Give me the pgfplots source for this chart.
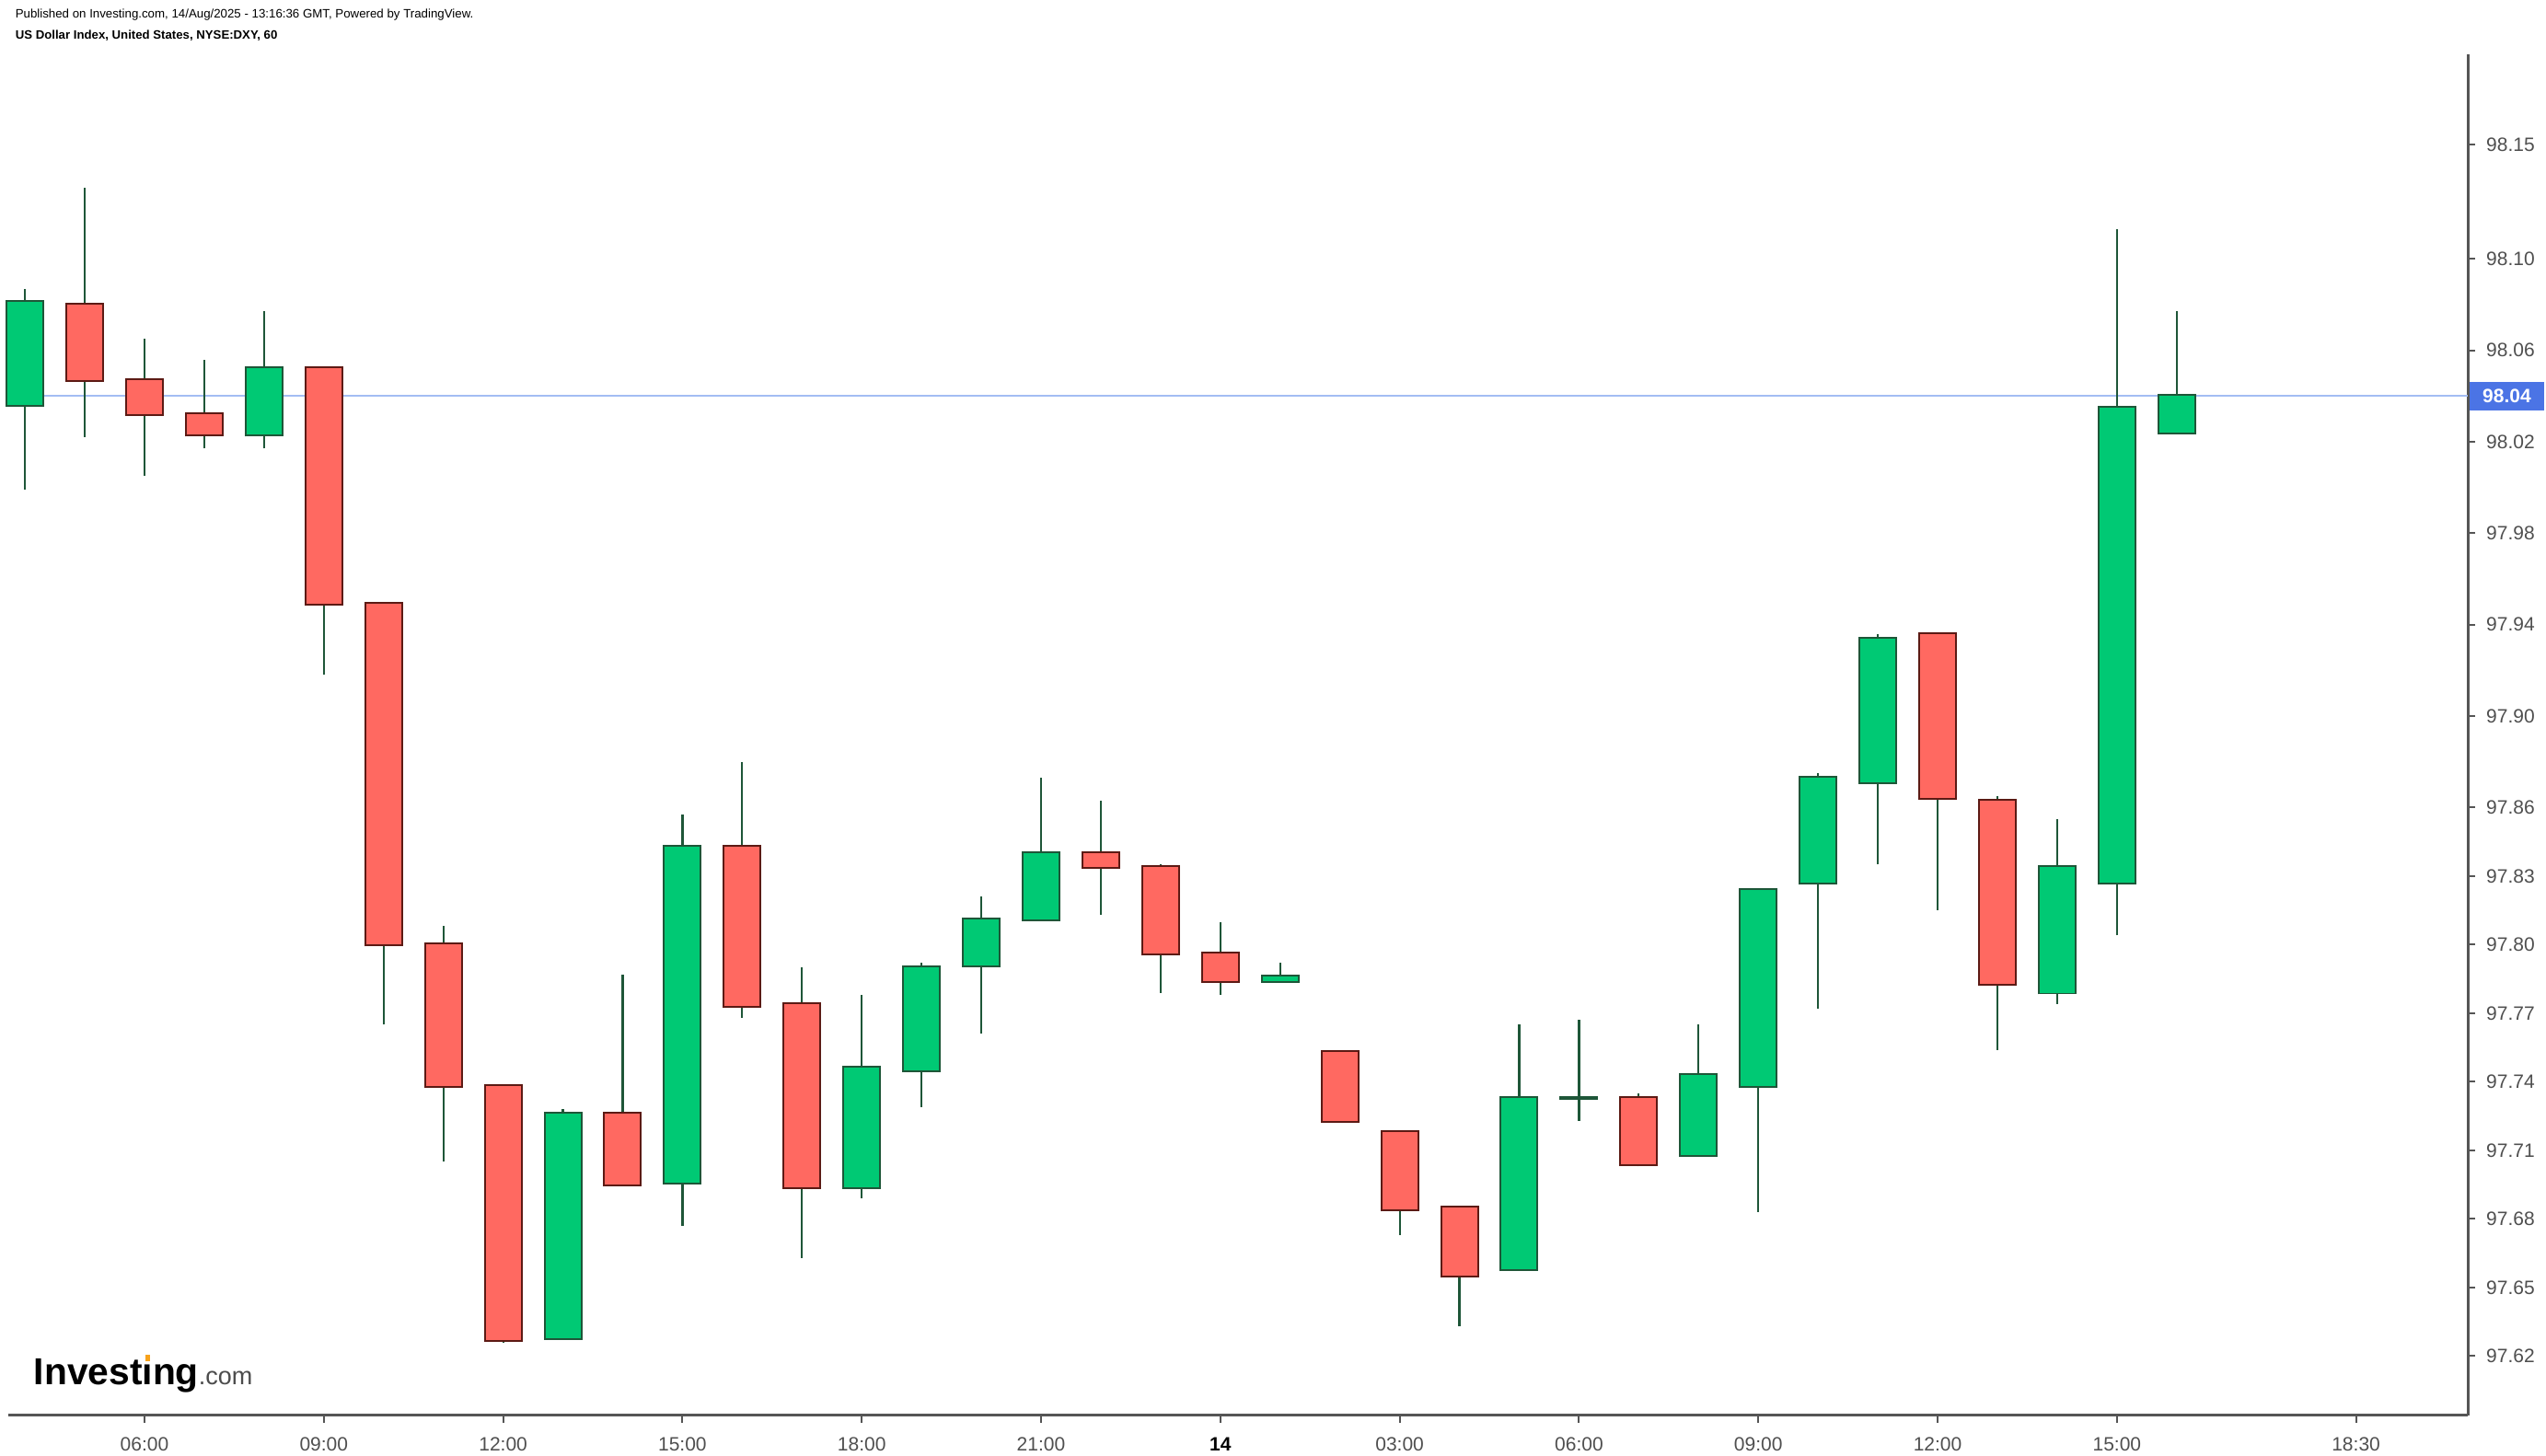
\documentclass[border=0pt]{standalone}
\usepackage{pgfplots}
\pgfplotsset{compat=1.18}
\usepackage{pgfplotstable}
\usepackage{fontspec}
\setmainfont{Liberation Sans}
\definecolor{gfill}{HTML}{00C974}
\definecolor{gborder}{HTML}{1E5638}
\definecolor{rfill}{HTML}{FF6961}
\definecolor{rborder}{HTML}{5C1A14}
\definecolor{wick}{HTML}{1E5638}
\definecolor{axiscol}{HTML}{555555}
\definecolor{labelcol}{HTML}{4F4F4F}
\definecolor{pline}{HTML}{A3BDF3}
\definecolor{pbox}{HTML}{4B74E5}
\definecolor{logoorange}{HTML}{F7A21B}

% i = hour index (0 = 04:00 on 13 Aug), o h l c
\pgfplotstableread{
i o h l c
0 98.036 98.087 97.999 98.081
4 98.023 98.077 98.017 98.052
9 97.628 97.728 97.628 97.726
11 97.696 97.857 97.677 97.843
14 97.694 97.778 97.689 97.746
15 97.745 97.792 97.729 97.790
16 97.791 97.821 97.761 97.811
17 97.811 97.873 97.811 97.840
21 97.784 97.792 97.784 97.786
25 97.658 97.765 97.658 97.733
26 97.733 97.767 97.723 97.733
28 97.708 97.765 97.708 97.743
29 97.738 97.824 97.683 97.824
30 97.827 97.875 97.772 97.873
31 97.871 97.936 97.835 97.934
34 97.779 97.855 97.774 97.834
35 97.827 98.113 97.804 98.035
36 98.024 98.077 98.024 98.040
}\upT
\pgfplotstableread{
i o h l c
1 98.080 98.131 98.022 98.047
2 98.047 98.065 98.005 98.032
3 98.032 98.056 98.017 98.023
5 98.052 98.052 97.918 97.949
6 97.949 97.950 97.765 97.800
7 97.800 97.808 97.705 97.738
8 97.738 97.738 97.626 97.627
10 97.726 97.787 97.695 97.695
12 97.843 97.880 97.768 97.773
13 97.774 97.790 97.663 97.694
18 97.840 97.863 97.813 97.834
19 97.834 97.835 97.779 97.796
20 97.796 97.810 97.778 97.784
22 97.753 97.753 97.723 97.723
23 97.718 97.718 97.673 97.684
24 97.685 97.685 97.633 97.655
27 97.733 97.735 97.703 97.704
32 97.936 97.936 97.815 97.864
33 97.863 97.865 97.754 97.783
}\dnT

\newcommand\tickfont{\fontsize{5.25}{6}\selectfont}

\begin{document}
\begin{tikzpicture}
\path[use as bounding box] (-2.25pt,-11pt) rectangle (689.25pt,384.5pt);
\begin{axis}[
  at={(0,0)}, anchor=south west,
  scale only axis, width=668pt, height=369.75pt,
  xmin=-0.279, xmax=40.87, ymin=97.594, ymax=98.1895,
  axis x line*=bottom, axis y line*=right,
  axis line style={draw=axiscol, line width=0.75pt},
  xtick={2,5,8,11,14,17,20,23,26,29,32,35,39},
  xticklabels={06:00,09:00,12:00,15:00,18:00,21:00,{\textcolor{black}{\bfseries 14}},03:00,06:00,09:00,12:00,15:00,18:30},
  ytick={97.62,97.65,97.68,97.71,97.74,97.77,97.80,97.83,97.86,97.90,97.94,97.98,98.02,98.06,98.10,98.15},
  yticklabels={97.62,97.65,97.68,97.71,97.74,97.77,97.80,97.83,97.86,97.90,97.94,97.98,98.02,98.06,98.10,98.15},
  tick align=outside, major tick length=2pt,
  tick style={draw=axiscol, line width=0.5pt},
  ticklabel style={font=\tickfont, text=labelcol},
  yticklabel style={anchor=west, xshift=-0.5pt},
  xticklabel style={yshift=-0.5pt},
  clip=false,
]
% current price line
\addplot[forget plot, draw=pline, line width=0.4pt] coordinates {(-0.279,98.04) (40.87,98.04)};
% wicks
\addplot[forget plot, draw=none, mark=none, error bars/.cd, y dir=plus, y explicit, error mark=none,
  error bar style={draw=wick, line width=0.55pt, solid}]
  table[x=i, y=l, y error expr=\thisrow{h}-\thisrow{l}] \upT;
\addplot[forget plot, draw=none, mark=none, error bars/.cd, y dir=plus, y explicit, error mark=none,
  error bar style={draw=wick, line width=0.55pt, solid}]
  table[x=i, y=l, y error expr=\thisrow{h}-\thisrow{l}] \dnT;
% bodies: border
\addplot[forget plot, draw=none, mark=none, error bars/.cd, y dir=plus, y explicit, error mark=none,
  error bar style={draw=gborder, line width=10.5pt, solid}]
  table[x=i, y expr={min(\thisrow{o},\thisrow{c})-0.0008}, y error expr={abs(\thisrow{c}-\thisrow{o})+0.0016}] \upT;
\addplot[forget plot, draw=none, mark=none, error bars/.cd, y dir=plus, y explicit, error mark=none,
  error bar style={draw=rborder, line width=10.5pt, solid}]
  table[x=i, y expr={min(\thisrow{o},\thisrow{c})-0.0008}, y error expr={abs(\thisrow{c}-\thisrow{o})+0.0016}] \dnT;
% bodies: fill
\addplot[forget plot, draw=none, mark=none, error bars/.cd, y dir=plus, y explicit, error mark=none,
  error bar style={draw=gfill, line width=9.5pt, solid}]
  table[x=i, y expr={min(\thisrow{o},\thisrow{c})}, y error expr={abs(\thisrow{c}-\thisrow{o})}] \upT;
\addplot[forget plot, draw=none, mark=none, error bars/.cd, y dir=plus, y explicit, error mark=none,
  error bar style={draw=rfill, line width=9.5pt, solid}]
  table[x=i, y expr={min(\thisrow{o},\thisrow{c})}, y error expr={abs(\thisrow{c}-\thisrow{o})}] \dnT;
\coordinate (pl) at (axis cs:40.87,98.04);
\end{axis}
\node[anchor=west, fill=pbox, text=white, inner sep=0pt, minimum width=20.25pt, minimum height=7.75pt,
  font=\tickfont\bfseries] at ([xshift=0.3pt]pl) {98.04};
% header
\node[anchor=west, inner sep=0pt, font=\fontsize{3.32}{4}\selectfont] at (1.75pt,380.5pt)
  {Published on Investing.com, 14/Aug/2025 - 13:16:36 GMT, Powered by TradingView.};
\node[anchor=west, inner sep=0pt, font=\fontsize{3.3}{4}\selectfont\bfseries] at (1.75pt,374.75pt)
  {US Dollar Index, United States, NYSE:DXY, 60};
% logo
\node[anchor=base west, inner sep=0pt] at (6.75pt,8.25pt)
  {{\fontsize{10.2}{12}\selectfont\bfseries Invest\ooalign{\i\cr\hidewidth\textcolor{logoorange}{\raisebox{6.4pt}{\rule{1.3pt}{1.9pt}}}\hidewidth\cr}ng}{\fontsize{6.75}{8}\selectfont\textcolor{black!70}{.com}}};
\end{tikzpicture}
\end{document}
